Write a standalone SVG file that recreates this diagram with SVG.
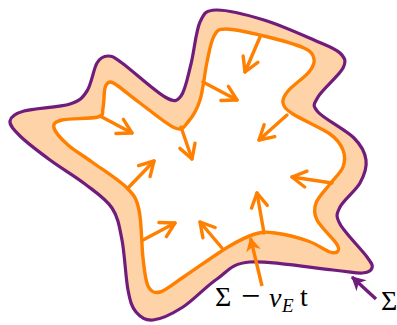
<svg xmlns="http://www.w3.org/2000/svg" width="397" height="325" viewBox="0 0 397 325">
<style>
.outer{fill:#FED3A8;stroke:#701C7C;stroke-width:3.2;stroke-linejoin:round}
.inner{fill:#FFFFFF;stroke:#FF8000;stroke-width:3.4;stroke-linejoin:round}
.arr{fill:none;stroke:#FF8000;stroke-width:3.4;stroke-linecap:round;marker-end:url(#barb)}
.lbl{font-family:"Liberation Serif","Times New Roman",serif;font-size:28px;fill:#000}
</style>
<defs>
<marker id="barb" markerUnits="userSpaceOnUse" viewBox="-16 -10 20 20" markerWidth="20" markerHeight="20" refX="0" refY="0" orient="auto" overflow="visible">
<path d="M-14,-8 L0,0 L-14,8" fill="none" stroke="#FF8000" stroke-width="3.4" stroke-linecap="round" stroke-linejoin="round"/>
</marker>
<marker id="stealthO" markerUnits="userSpaceOnUse" viewBox="-16 -10 20 20" markerWidth="20" markerHeight="20" refX="0" refY="0" orient="auto" overflow="visible">
<path d="M1,0 L-13,-7.5 L-9,0 L-13,7.5 Z" fill="#FF8000"/>
</marker>
<marker id="stealthP" markerUnits="userSpaceOnUse" viewBox="-16 -10 20 20" markerWidth="20" markerHeight="20" refX="0" refY="0" orient="auto" overflow="visible">
<path d="M1,0 L-13,-7.5 L-9,0 L-13,7.5 Z" fill="#701C7C"/>
</marker>
</defs>
<g id="front-sigma">
<path class="outer" d="M10,121 C10.67,116.83 14,113.83 24,111 C34,108.17 59.5,107.33 70,104 C80.5,100.67 82.5,97.83 87,91 C91.5,84.17 93.5,68.83 97,63 C100.5,57.17 103.83,56 108,56 C112.17,56 112.5,56.17 122,63 C131.5,69.83 155.17,91.5 165,97 C174.83,102.5 176.67,101.5 181,96 C185.33,90.5 187.83,76.33 191,64 C194.17,51.67 195.83,31 200,22 C204.17,13 205.33,10.33 216,10 C226.67,9.670 247.67,15 264,20 C280.33,25 301.33,34.5 314,40 C326.67,45.5 335.17,48.33 340,53 C344.83,57.67 346.67,60.67 343,68 C339.33,75.33 322.17,89.67 318,97 C313.83,104.33 312,105.17 318,112 C324,118.83 346,130 354,138 C362,146 365,152.5 366,160 C367,167.5 364.33,175.17 360,183 C355.67,190.83 343.33,200.17 340,207 C336.67,213.83 335.5,215.67 340,224 C344.5,232.33 361.67,249.67 367,257 C372.33,264.33 372.83,265.33 372,268 C371.17,270.67 368.5,272.67 362,273 C355.5,273.33 351.67,271.83 333,270 C314.33,268.17 269.33,260.5 250,262 C230.67,263.5 228.17,271.5 217,279 C205.83,286.5 193.67,300.17 183,307 C172.33,313.83 160.83,319.17 153,320 C145.17,320.83 140.17,317 136,312 C131.83,307 130.33,302 128,290 C125.67,278 124.67,253.67 122,240 C119.33,226.33 118.17,217.33 112,208 C105.83,198.67 95.33,192 85,184 C74.67,176 60.83,168 50,160 C39.17,152 26.67,142.5 20,136 C13.33,129.5 9.33,125.17 10,121 Z"/>
</g>
<g id="moved-front">
<path class="inner" d="M54,128 C53,123.83 54.67,121.83 62,120 C69.33,118.17 91.17,119 98,117 C104.83,115 101.83,112.83 103,108 C104.17,103.17 103.83,92.33 105,88 C106.17,83.67 107.83,82.33 110,82 C112.17,81.67 113,82.5 118,86 C123,89.5 130.5,96 140,103 C149.5,110 167,124.83 175,128 C183,131.17 183.83,126.67 188,122 C192.17,117.33 196.83,110 200,100 C203.17,90 204.67,72.67 207,62 C209.33,51.33 210.83,41.5 214,36 C217.17,30.5 217.67,29 226,29 C234.33,29 251,32.83 264,36 C277,39.17 295.67,44.17 304,48 C312.33,51.83 313.17,55 314,59 C314.83,63 313.33,66.67 309,72 C304.67,77.33 292.33,85.83 288,91 C283.67,96.17 282.17,99.17 283,103 C283.83,106.83 285.17,108.83 293,114 C300.83,119.17 321.67,128 330,134 C338.33,140 340.83,144.5 343,150 C345.17,155.5 345.17,161.33 343,167 C340.83,172.67 334.5,178 330,184 C325.5,190 318.17,197 316,203 C313.83,209 313.67,213.33 317,220 C320.33,226.67 332.5,237.83 336,243 C339.5,248.17 339,249.5 338,251 C337,252.5 335,253.67 330,252 C325,250.33 317.17,244.17 308,241 C298.83,237.83 283.83,234.17 275,233 C266.17,231.83 262.83,231.67 255,234 C247.17,236.33 239.67,240 228,247 C216.33,254 196.33,268.5 185,276 C173.67,283.5 166.17,290.33 160,292 C153.83,293.67 150.83,291.67 148,286 C145.17,280.33 144.5,270.67 143,258 C141.5,245.33 141.67,221.67 139,210 C136.33,198.33 134.83,196 127,188 C119.17,180 101.830,169.17 92,162 C82.17,154.83 74.33,150.67 68,145 C61.67,139.33 55,132.17 54,128 Z"/>
</g>
<g id="connectors">
<path class="arr" d="M100,116 L132,133"/>
<path class="arr" d="M181,127 L192,159"/>
<path class="arr" d="M260,37 L245,72"/>
<path class="arr" d="M203,82 L237,100"/>
<path class="arr" d="M287,115 L259,140"/>
<path class="arr" d="M332,183 L292,177"/>
<path class="arr" d="M264,233 L257,193"/>
<path class="arr" d="M222,248 L200,222"/>
<path class="arr" d="M143,240 L175,223"/>
<path class="arr" d="M128,188 L154,161"/>
<path d="M262,286 L250.5,238" fill="none" stroke="#FF8000" stroke-width="3.4" marker-end="url(#stealthO)"/>
<path d="M376,299 L352,277" fill="none" stroke="#701C7C" stroke-width="3.4" marker-end="url(#stealthP)"/>
</g>
<g id="label-moved">
<text class="lbl" y="306"><tspan x="215">Σ</tspan><tspan x="241" font-size="34" y="307">−</tspan><tspan x="269" font-style="italic">v</tspan><tspan x="282" y="312" font-size="19" font-style="italic">E</tspan><tspan x="300" y="306">t</tspan></text>
</g>
<g id="label-sigma">
<text class="lbl" x="381" y="310">Σ</text>
</g>
</svg>
